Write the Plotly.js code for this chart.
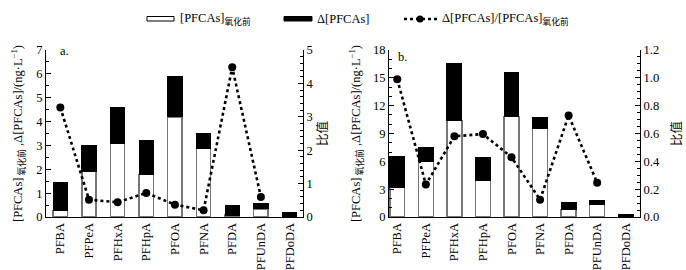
<!DOCTYPE html>
<html><head><meta charset="utf-8">
<script src="https://cdn.plot.ly/plotly-3.0.1.min.js"></script>
<style>html,body{margin:0;padding:0;background:#fff}#c{width:686px;height:270px}</style>
</head><body><div id="c"></div>
<script>
const categories = ["PFBA","PFPeA","PFHxA","PFHpA","PFOA","PFNA","PFDA","PFUnDA","PFDoDA"];
// panel a
const aBefore = [0.28, 1.92, 3.10, 1.79, 4.20, 2.86, 0.08, 0.34, 0.00];
const aDelta  = [1.15, 1.08, 1.50, 1.41, 1.68, 0.66, 0.42, 0.23, 0.20];
const aRatio  = [3.28, 0.52, 0.44, 0.72, 0.37, 0.20, 4.48, 0.60, null];
// panel b
const bBefore = [3.18, 5.96, 10.40, 3.98, 10.84, 9.54, 0.83, 1.37, 0.00];
const bDelta  = [3.32, 1.52, 6.15, 2.45, 4.74, 1.16, 0.69, 0.36, 0.22];
const bRatio  = [0.99, 0.234, 0.58, 0.596, 0.43, 0.124, 0.73, 0.246, null];

const W = 686, H = 270;
const px = x => x / W, py = y => 1 - y / H;
const FONT = "Liberation Serif, Times New Roman, Noto Sans CJK SC, serif";

function barTraces(before, delta, xa, ya, w) {
  return [
    {type:'bar', x:categories, y:before, xaxis:xa, yaxis:ya, width:w,
     marker:{color:'#ffffff', line:{color:'#777777', width:1.4}}, showlegend:false, hoverinfo:'y'},
    {type:'bar', x:categories, y:delta, xaxis:xa, yaxis:ya, width:w,
     marker:{color:'#000000', line:{color:'#000000', width:1}}, showlegend:false, hoverinfo:'y'}
  ];
}
function ratioTrace(r, xa, ya) {
  return {type:'scatter', mode:'lines+markers', x:categories, y:r, xaxis:xa, yaxis:ya,
    line:{color:'#000', width:2.6, dash:'dot'}, marker:{color:'#000', size:8},
    connectgaps:false, showlegend:false};
}
const data = [
  ...barTraces(aBefore, aDelta, 'x', 'y', 0.5),
  ratioTrace(aRatio, 'x', 'y2'),
  ...barTraces(bBefore, bDelta, 'x2', 'y3', 0.52),
  ratioTrace(bRatio, 'x2', 'y4')
];

const tickf = {family:FONT, size:12.5, color:'#000'};
const ydom = [py(217), py(50)];
function xAxis(dom, range, anchor) {
  return {domain:dom, range:range, anchor:anchor, showline:true, linecolor:'#000', linewidth:1,
    ticks:'', tickangle:-90, tickfont:tickf, showgrid:false, zeroline:false, fixedrange:true};
}
function yAxis(range, dtick, minor, side, anchor, overlaying, title, tfmt, standoff) {
  const o = {domain:ydom, range:range, dtick:dtick, tick0:0, anchor:anchor, side:side,
    showline:true, linecolor:'#000', linewidth:1, ticks:'inside', ticklen:5, tickcolor:'#000',
    minor:{dtick:minor, ticks:'inside', ticklen:3, tickcolor:'#000'},
    tickfont:tickf, showgrid:false, zeroline:false, fixedrange:true,
    title:{text:title, font:{family:FONT, size:12.5, color:'#000'}, standoff:standoff}};
  if (overlaying) o.overlaying = overlaying;
  if (tfmt) o.tickformat = tfmt;
  return o;
}
const leftTitle = "[PFCAs]<sub> 氧化前</sub> ,Δ[PFCAs]/(ng·L<sup>−1</sup>)";
const layout = {
  width:W, height:H, margin:{l:0, r:0, t:0, b:0}, paper_bgcolor:'#fff', plot_bgcolor:'rgba(0,0,0,0)',
  barmode:'stack', bargap:0.5, showlegend:false, font:{family:FONT, color:'#000'},
  xaxis: xAxis([px(46), px(303)], [-0.5, 8.47], 'y'),
  yaxis: yAxis([0, 7], 1, 0.5, 'left', 'x', null, leftTitle, null, 10),
  yaxis2: yAxis([0, 5], 1, 0.2, 'right', 'x', 'y', '比值', null, 5),
  xaxis2: xAxis([px(389), px(640)], [-0.29, 8.5], 'y3'),
  yaxis3: yAxis([0, 18], 3, 1, 'left', 'x2', null, leftTitle, null, 9),
  yaxis4: yAxis([0, 1.2], 0.2, 0.05, 'right', 'x2', 'y3', '比值', '.1f', 13),
  shapes: [
    {type:'rect', xref:'paper', yref:'paper', x0:px(147), x1:px(174), y0:py(21), y1:py(16.5),
     fillcolor:'#fff', line:{color:'#000', width:1}},
    {type:'rect', xref:'paper', yref:'paper', x0:px(284), x1:px(312), y0:py(21), y1:py(16.5),
     fillcolor:'#000', line:{color:'#000', width:1}},
    {type:'line', xref:'paper', yref:'paper', x0:px(404), x1:px(437), y0:py(19), y1:py(19),
     line:{color:'#000', width:2.6, dash:'dot'}},
    {type:'circle', xref:'paper', yref:'paper', x0:px(416.5), x1:px(423.5), y0:py(22.5), y1:py(15.5),
     fillcolor:'#000', line:{color:'#000', width:0}}
  ],
  annotations: [
    {xref:'paper', yref:'paper', x:px(178), y:py(19), xanchor:'left', yanchor:'middle', showarrow:false,
     text:'[PFCAs]<sub>氧化前</sub>', font:{family:FONT, size:12.5, color:'#000'}},
    {xref:'paper', yref:'paper', x:px(315), y:py(19), xanchor:'left', yanchor:'middle', showarrow:false,
     text:'Δ[PFCAs]', font:{family:FONT, size:12.5, color:'#000'}},
    {xref:'paper', yref:'paper', x:px(440), y:py(19), xanchor:'left', yanchor:'middle', showarrow:false,
     text:'Δ[PFCAs]/[PFCAs]<sub>氧化前</sub>', font:{family:FONT, size:12.5, color:'#000'}},
    {xref:'paper', yref:'paper', x:px(58), y:py(51), xanchor:'left', yanchor:'middle', showarrow:false,
     text:'a.', font:{family:FONT, size:12.5, color:'#000'}},
    {xref:'paper', yref:'paper', x:px(396), y:py(57), xanchor:'left', yanchor:'middle', showarrow:false,
     text:'b.', font:{family:FONT, size:12.5, color:'#000'}}
  ]
};
Plotly.newPlot('c', data, layout, {staticPlot:true, displayModeBar:false});
</script></body></html>
